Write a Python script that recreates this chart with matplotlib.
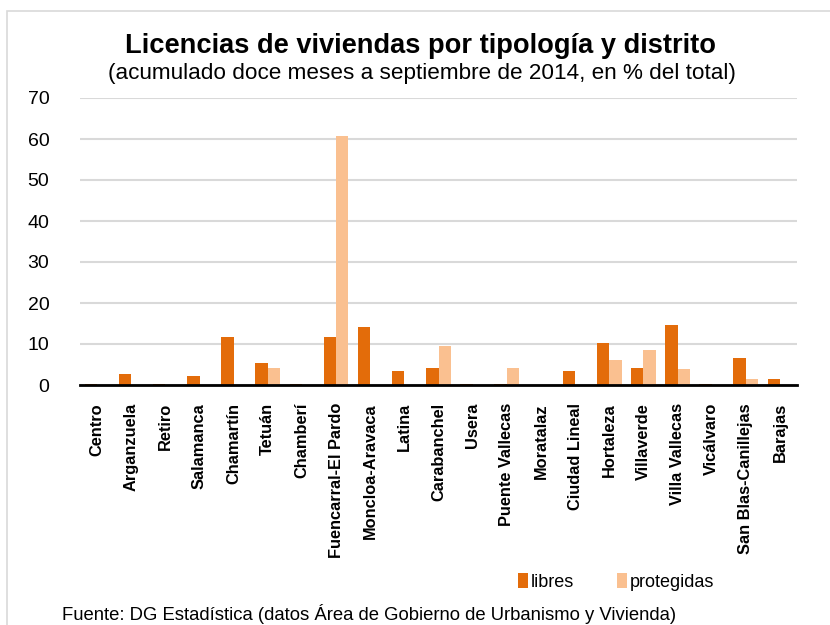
import numpy as np
import matplotlib
matplotlib.use('Agg')
import matplotlib.pyplot as plt
from matplotlib.patches import Rectangle

plt.rcParams['font.family'] = ['Liberation Sans', 'DejaVu Sans']

distritos = ['Centro', 'Arganzuela', 'Retiro', 'Salamanca', 'Chamartín', 'Tetuán',
             'Chamberí', 'Fuencarral-El Pardo', 'Moncloa-Aravaca', 'Latina',
             'Carabanchel', 'Usera', 'Puente Vallecas', 'Moratalaz', 'Ciudad Lineal',
             'Hortaleza', 'Villaverde', 'Villa Vallecas', 'Vicálvaro',
             'San Blas-Canillejas', 'Barajas']
libres = [0.3, 2.7, 0.3, 2.3, 11.7, 5.4, 0.3, 11.7, 14.2, 3.4,
          4.2, 0.2, 0.2, 0.1, 3.4, 10.2, 4.2, 14.6, 0.2, 6.6, 1.5]
protegidas = [0, 0, 0, 0, 0, 4.2, 0, 60.7, 0, 0,
              9.4, 0, 4.2, 0, 0, 6.2, 8.5, 3.8, 0, 1.5, 0]

c_lib = '#E36C0A'
c_pro = '#FAC090'

fig = plt.figure(figsize=(8.3, 6.25), dpi=100)
ax = fig.add_axes([80 / 830, 1 - 385 / 625, 717 / 830, 287 / 625])

# marco gris claro alrededor del grafico
fig.patches.append(Rectangle((7 / 830, -0.1), 1.1, 1 - 11 / 625 + 0.1, transform=fig.transFigure,
                             fill=False, edgecolor='#D9D9D9', linewidth=1.2))

x = np.arange(len(distritos))
w = 0.36
ax.bar(x - w / 2, libres, w, color=c_lib, label='libres', zorder=3)
ax.bar(x + w / 2, protegidas, w, color=c_pro, label='protegidas', zorder=3)

ax.set_xlim(-0.5, len(distritos) - 0.5)
ax.set_ylim(0, 70)
ax.set_yticks(range(0, 71, 10))
ax.yaxis.grid(True, color='#D9D9D9', linewidth=1.5, zorder=0)
ax.set_axisbelow(True)
for s in ['top', 'right', 'left']:
    ax.spines[s].set_visible(False)
ax.spines['bottom'].set_color('black')
ax.spines['bottom'].set_linewidth(2)
ax.spines['bottom'].set_zorder(4)

ax.set_xticks(x)
ax.set_xticklabels(distritos, rotation=90, fontsize=11.8, fontweight='bold')
ax.tick_params(axis='both', length=0)
ax.tick_params(axis='x', pad=13)
ax.tick_params(axis='y', labelsize=14, pad=22)

fig.text(0.507, 1 - 46 / 625, 'Licencias de viviendas por tipología y distrito',
         ha='center', va='center', fontsize=19.6, fontweight='bold')
fig.text(0.508, 1 - 73 / 625, '(acumulado doce meses a septiembre de 2014, en % del total)',
         ha='center', va='center', fontsize=16.2)

fig.legend(loc='center', bbox_to_anchor=(616 / 830, 1 - 582 / 625), ncol=2, frameon=False,
           fontsize=13, handlelength=0.55, handleheight=0.9, handletextpad=0.15, columnspacing=2.4)

fig.text(62 / 830, 1 - 614 / 625,
         'Fuente: DG Estadística (datos Área de Gobierno de Urbanismo y Vivienda)',
         ha='left', va='center', fontsize=13.3)

fig.savefig('out.png', dpi=100)
